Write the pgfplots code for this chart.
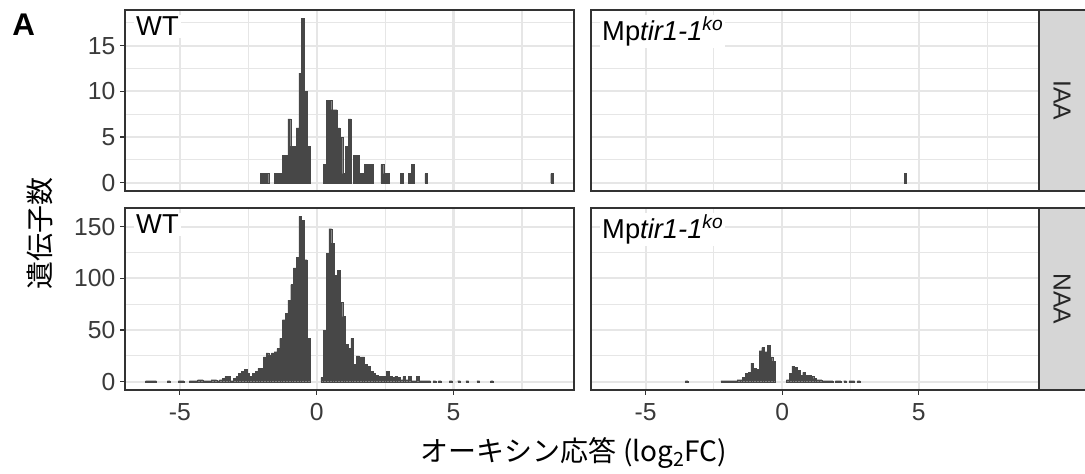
\documentclass[border=0pt]{standalone}
\usepackage{pgfplots}
\pgfplotsset{compat=1.18}
\usepackage{fontspec}
\setmainfont{Liberation Sans}
\newfontfamily\jp{Noto Sans CJK JP}

\definecolor{barcol}{HTML}{474747}
\definecolor{gridcol}{HTML}{E6E6E6}
\definecolor{framecol}{HTML}{333333}
\definecolor{stripcol}{HTML}{D6D6D6}
\definecolor{labcol}{HTML}{3A3A3A}

% histogram counts, bin width 0.1, bins centred on multiples of 0.1
\pgfplotstableread{
x y
-2.0 1
-1.9 1
-1.8 1
-1.5 1
-1.4 1
-1.3 1
-1.2 3
-1.1 3
-1.0 7
-0.9 4
-0.8 4
-0.7 6
-0.6 12
-0.5 18
-0.4 10
-0.3 4
0.3 2
0.4 9
0.5 9
0.6 8
0.7 8
0.8 6
0.9 5
1.0 1
1.1 4
1.2 7
1.4 3
1.5 3
1.6 1
1.7 1
1.8 2
1.9 2
2.0 2
2.4 2
2.5 1
2.6 1
3.1 1
3.4 1
3.5 2
4.0 1
8.6 1
}\iaawt

\pgfplotstableread{
x y
4.5 1
}\iaako

\pgfplotstableread{
x y
-6.2 1
-6.1 1
-6.0 1
-5.9 1
-5.4 1
-5.0 1
-4.9 1
-4.6 1
-4.5 1
-4.4 1
-4.3 2
-4.2 2
-4.1 1
-4.0 1
-3.9 1
-3.8 2
-3.7 2
-3.6 1
-3.5 2
-3.4 3
-3.3 5
-3.2 5
-3.1 1
-3.0 3
-2.9 5
-2.8 8
-2.7 10
-2.6 12
-2.5 8
-2.4 5
-2.3 8
-2.2 10
-2.1 13
-2.0 13
-1.9 24
-1.8 28
-1.7 26
-1.6 28
-1.5 29
-1.4 32
-1.3 42
-1.2 60
-1.1 66
-1.0 79
-0.9 94
-0.8 110
-0.7 120
-0.6 160
-0.5 156
-0.4 118
-0.3 42
0.2 4
0.3 50
0.4 124
0.5 148
0.6 134
0.7 103
0.8 108
0.9 77
1.0 63
1.1 36
1.2 32
1.3 42
1.4 17
1.5 25
1.6 24
1.7 24
1.8 17
1.9 15
2.0 10
2.1 8
2.2 6
2.3 5
2.4 5
2.5 5
2.6 10
2.7 5
2.8 4
2.9 5
3.0 4
3.1 2
3.2 5
3.3 2
3.4 5
3.5 1
3.6 1
3.7 5
3.8 1
3.9 1
4.0 1
4.1 1
4.3 1
4.5 1
4.9 1
5.2 1
5.5 1
5.9 1
6.4 1
}\naawt

\pgfplotstableread{
x y
-3.5 1
-2.2 1
-2.1 1
-2.0 1
-1.9 1
-1.8 1
-1.7 1
-1.6 2
-1.5 2
-1.4 4
-1.3 8
-1.2 9
-1.1 18
-1.0 13
-0.9 12
-0.8 30
-0.7 33
-0.6 29
-0.5 35
-0.4 24
-0.3 20
0.2 2
0.3 8
0.4 15
0.5 14
0.6 11
0.7 6
0.8 9
0.9 6
1.0 6
1.1 5
1.2 3
1.3 2
1.4 2
1.5 1
1.6 1
1.7 1
1.8 1
2.0 1
2.1 1
2.3 1
2.5 1
2.6 1
2.8 1
}\naako

\pgfplotsset{
  panel/.style={
    scale only axis,
    xmin=-7, xmax=9.4,
    axis line style={framecol, line width=0.9pt},
    xtick={-5,0,5}, minor xtick={-2.5,2.5,7.5},
    grid=both,
    major grid style={gridcol, line width=1.6pt},
    minor grid style={gridcol, line width=0.8pt},
    tick align=outside,
    major tick length=3.75pt,
    minor tick length=0pt,
    tick style={framecol, line width=1pt},
    tick pos=left,
    ticklabel style={font=\fontsize{18.5}{20}\selectfont, text=labcol},
    xticklabel style={yshift=-3pt},
    /pgf/number format/assume math mode=true,
  },
  toprow/.style={ymin=-0.9, ymax=18.9, ytick={0,5,10,15},
    minor ytick={2.5,7.5,12.5,17.5}, xticklabels={}, xtick style={draw=none}},
  botrow/.style={ymin=-8, ymax=168, ytick={0,50,100,150},
    minor ytick={25,75,125}, xticklabels={-5,0,5}},
  rightcol/.style={yticklabels={}, ytick style={draw=none}},
  hist/.style={ybar, bar width=0.1, /pgf/bar shift=0pt, fill=barcol, draw=barcol, line width=0.2pt},
}
\tikzset{plab/.style={anchor=north west, fill=white, inner sep=1.5pt, font=\fontsize{20.5}{22}\selectfont}}

\newcommand{\ko}{Mp\textit{tir1-1}\textsuperscript{\textit{ko}}}

\begin{document}
\begin{tikzpicture}
\path[use as bounding box] (0,0) rectangle (813.75pt,355.5pt);

\begin{axis}[panel, toprow, name=tl, at={(93.75pt,212.25pt)}, anchor=south west,
  width=336.75pt, height=135.75pt]
  \addplot[hist] table[x=x, y=y] {\iaawt};
  \node[plab] at (rel axis cs:0.02,0.975) {WT};
\end{axis}

\begin{axis}[panel, toprow, rightcol, name=tr, at={(443.25pt,212.25pt)}, anchor=south west,
  width=336pt, height=135.75pt]
  \addplot[hist] table[x=x, y=y] {\iaako};
  \node[plab] at (rel axis cs:0.02,0.975) {\ko};
\end{axis}

\begin{axis}[panel, botrow, name=bl, at={(93.75pt,63pt)}, anchor=south west,
  width=336.75pt, height=136.5pt]
  \addplot[hist] table[x=x, y=y] {\naawt};
  \node[plab] at (rel axis cs:0.02,0.975) {WT};
\end{axis}

\begin{axis}[panel, botrow, rightcol, name=br, at={(443.25pt,63pt)}, anchor=south west,
  width=336pt, height=136.5pt]
  \addplot[hist] table[x=x, y=y] {\naako};
  \node[plab] at (rel axis cs:0.02,0.975) {\ko};
\end{axis}

% facet strips on the right
\foreach \ax/\lab in {tr/IAA, br/NAA}{
  \fill[stripcol] (\ax.north east) rectangle ([xshift=34.5pt]\ax.south east);
  \draw[framecol, line width=0.9pt] ([xshift=34.5pt]\ax.north east) -- (\ax.north east)
    -- (\ax.south east) -- ([xshift=34.5pt]\ax.south east);
  \node[rotate=-90, font=\fontsize{18.5}{20}\selectfont, text=black!85]
    at ([xshift=17.25pt]\ax.east) {\lab};
}

\node[font=\jp\fontsize{21}{23}\selectfont] at (430.5pt,15.75pt)
  {オーキシン応答 (log\textsubscript{2}FC)};
\node[rotate=90, font=\jp\fontsize{21}{23}\selectfont] at (30pt,180pt) {遺伝子数};
\node[anchor=north west, inner sep=0pt, font=\bfseries\fontsize{23.5}{25}\selectfont]
  at (9pt,345.5pt) {A};
\end{tikzpicture}
\end{document}
